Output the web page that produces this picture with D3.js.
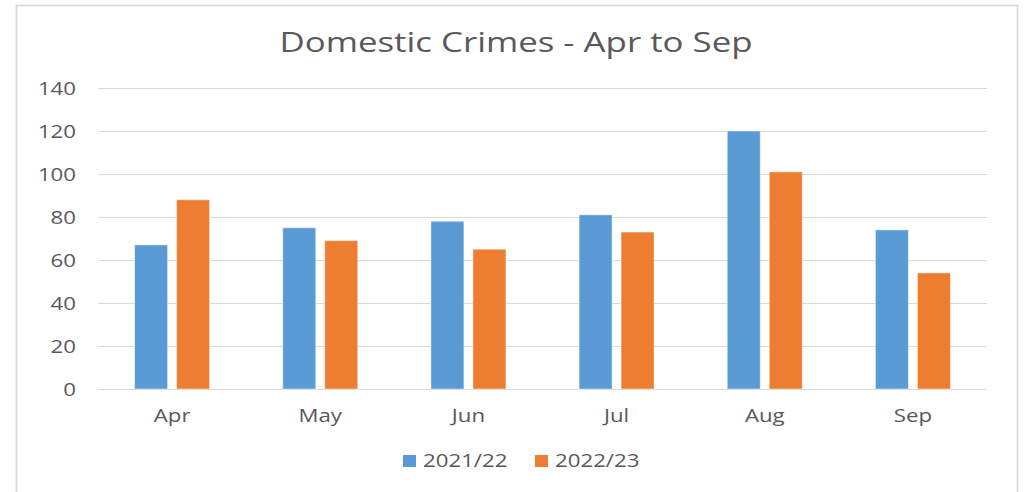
<!DOCTYPE html>
<html>
<head>
<meta charset="utf-8">
<script src="https://cdn.jsdelivr.net/npm/d3@7"></script>
<style>
  html, body { margin: 0; padding: 0; background: #ffffff; }
  svg { display: block; }
  text { font-family: "Open Sans", "Noto Sans", sans-serif; fill: #595959; }
</style>
</head>
<body>
<svg id="chart" width="1027" height="492"></svg>
<script>
const title = "Domestic Crimes - Apr to Sep";
const categories = ["Apr", "May", "Jun", "Jul", "Aug", "Sep"];
const seriesNames = ["2021/22", "2022/23"];
const values2021 = [67, 75, 78, 81, 120, 74];
const values2022 = [88, 69, 65, 73, 101, 54];
const yTicks = [0, 20, 40, 60, 80, 100, 120, 140];
const colors = ["#5B9BD5", "#ED7D31"];

const seriesValues = [values2021, values2022];

const svg = d3.select("#chart");
const plot = { left: 98, right: 987, top: 88, bottom: 389 };
const STRETCH = 1.17;

function stretch(sel, k) {
  sel.each(function () {
    const L = this.getComputedTextLength();
    d3.select(this).attr("textLength", L * k).attr("lengthAdjust", "spacingAndGlyphs");
  });
}

// outer chart border
svg.append("rect")
  .attr("x", 16.5).attr("y", 5.5)
  .attr("width", 1001).attr("height", 520)
  .attr("fill", "#ffffff")
  .attr("stroke", "#d9d9d9").attr("stroke-width", 1.75);

const y = d3.scaleLinear().domain([0, 140]).range([plot.bottom, plot.top]);
const x0 = d3.scaleBand().domain(categories).range([plot.left, plot.right]).padding(0);
const groupW = 75;
const x1 = d3.scaleBand().domain(seriesNames)
  .range([(x0.step() - groupW) / 2, (x0.step() + groupW) / 2])
  .paddingInner(0.214);

// gridlines
svg.append("g").selectAll("line").data(yTicks).join("line")
  .attr("x1", plot.left).attr("x2", plot.right)
  .attr("y1", d => Math.round(y(d)) + 0.5).attr("y2", d => Math.round(y(d)) + 0.5)
  .attr("stroke", "#d9d9d9").attr("stroke-width", 1.2);

// y axis labels
const yAxis = d3.axisLeft(y).tickValues(yTicks).tickSize(0).tickPadding(0);
const gy = svg.append("g").attr("transform", `translate(${76},0)`).call(yAxis);
gy.select(".domain").remove();
gy.selectAll("text").attr("font-size", 19).style("font-family", '"Open Sans", sans-serif')
  .attr("fill", "#595959").attr("dy", "0.36em");
stretch(gy.selectAll("text"), STRETCH);

// bars
const data = categories.map((c, i) => ({ c, vals: seriesNames.map((s, j) => ({ s, v: seriesValues[j][i], j })) }));
const groups = svg.append("g").selectAll("g").data(data).join("g")
  .attr("transform", d => `translate(${x0(d.c)},0)`);
groups.selectAll("rect").data(d => d.vals).join("rect")
  .attr("x", d => x1(d.s))
  .attr("width", x1.bandwidth())
  .attr("y", d => y(d.v))
  .attr("height", d => y(0) - y(d.v))
  .attr("fill", d => colors[d.j])
  .attr("stroke", "#ffffff").attr("stroke-opacity", 0.45).attr("stroke-width", 1);

// x axis labels
const xAxis = d3.axisBottom(x0).tickSize(0).tickPadding(0);
const gx = svg.append("g").attr("transform", `translate(0,${422})`).call(xAxis);
gx.select(".domain").remove();
gx.selectAll("text").attr("font-size", 19).style("font-family", '"Open Sans", sans-serif')
  .attr("fill", "#595959").attr("dy", 0);
stretch(gx.selectAll("text"), STRETCH);

// title
const t = svg.append("text").attr("x", 516).attr("y", 52)
  .attr("text-anchor", "middle").attr("font-size", 27.5).text(title);
const tw = t.node().getComputedTextLength();
t.attr("textLength", 473).attr("lengthAdjust", "spacingAndGlyphs");

// legend
const legendX = [403, 535];
const lg = svg.append("g").selectAll("g").data(seriesNames).join("g")
  .attr("transform", (d, i) => `translate(${legendX[i]},0)`);
lg.append("rect").attr("x", 0).attr("y", 455).attr("width", 13).attr("height", 12)
  .attr("fill", (d, i) => colors[i]);
const lt = lg.append("text").attr("x", 20).attr("y", 467).attr("font-size", 19).text(d => d);
stretch(lt, STRETCH);
</script>
</body>
</html>
